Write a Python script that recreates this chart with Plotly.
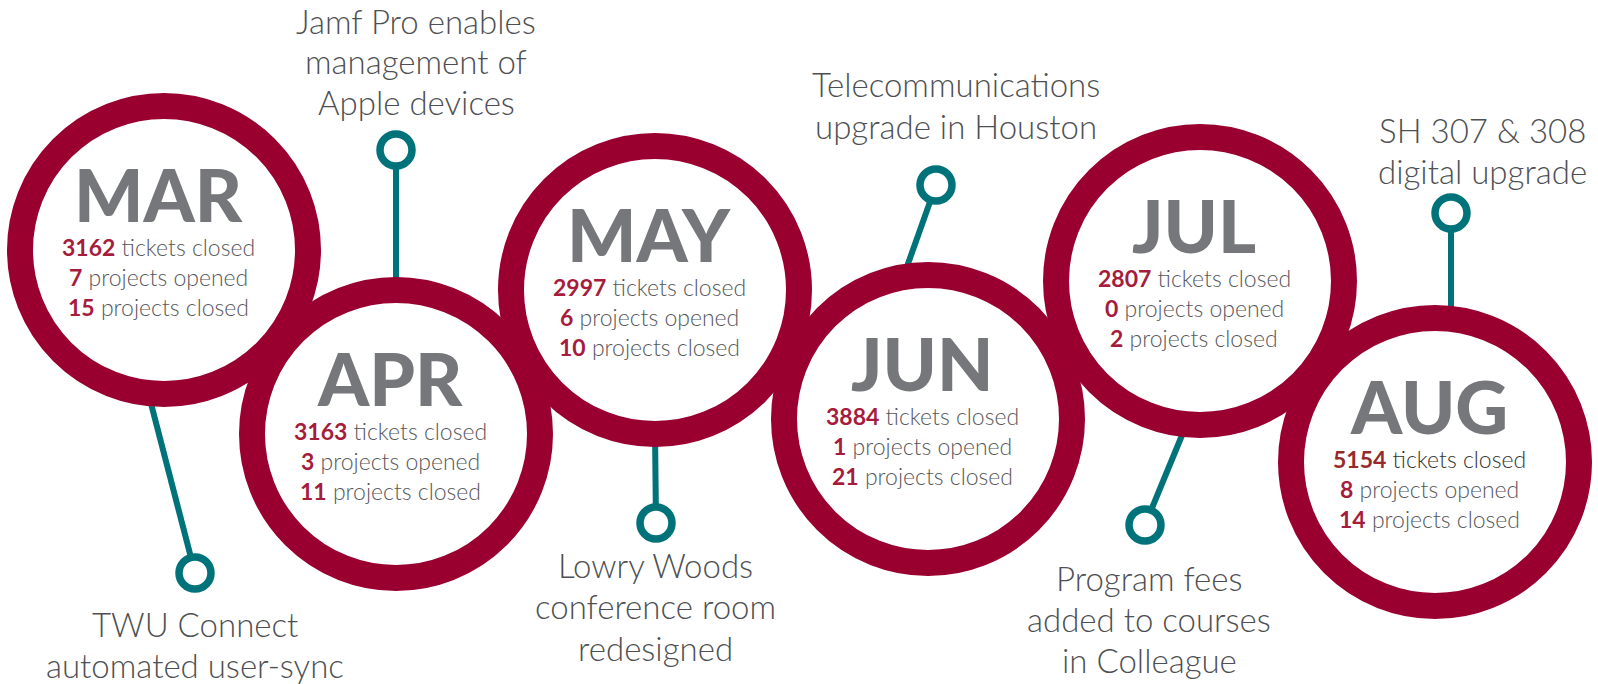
import plotly.graph_objects as go

# ---- data ----
months = ["MAR", "APR", "MAY", "JUN", "JUL", "AUG"]
tickets_closed = [3162, 3163, 2997, 3884, 2807, 5154]
projects_opened = [7, 3, 6, 1, 0, 8]
projects_closed = [15, 11, 10, 21, 2, 14]
milestones = [
    "TWU Connect<br>automated user-sync",
    "Jamf Pro enables<br>management of<br>Apple devices",
    "Lowry Woods<br>conference room<br>redesigned",
    "Telecommunications<br>upgrade in Houston",
    "Program fees<br>added to courses<br>in Colleague",
    "SH 307 & 308<br>digital upgrade",
]

# ---- layout (pixel positions in a 1598x684 canvas) ----
W, H = 1598, 684
circle_cx = [164, 396, 655, 928, 1200, 1435]
circle_cy = [250, 434, 290, 419, 281, 462]
R_MID = 144
RING_W = 26
pin_start = [(148, 392), (396, 292), (655, 432), (904, 275), (1185, 428), (1451, 320)]
pin_end = [(195, 573), (396, 150), (656, 523), (936, 185), (1145, 525), (1451, 213)]
label_x = [195, 416, 655, 956, 1149, 1482]
label_y = [[624, 665], [21, 61, 102], [565, 606, 648], [84, 126], [578, 619, 660], [130, 171]]

RED = "#990030"
NUM = "#a51c3c"
GRAY_M = "#76777a"
GRAY_T = "#56575b"
TEAL = "#00737a"
PIN_TXT = "#4e4f52"

fig = go.Figure()

# teal connector lines
for (x0, y0), (x1, y1) in zip(pin_start, pin_end):
    fig.add_trace(go.Scatter(x=[x0, x1], y=[y0, y1], mode="lines",
                             line=dict(color=TEAL, width=6), hoverinfo="skip",
                             showlegend=False))
# pin rings
fig.add_trace(go.Scatter(x=[p[0] for p in pin_end], y=[p[1] for p in pin_end],
                         mode="markers",
                         marker=dict(size=32, color="white", symbol="circle",
                                     line=dict(color=TEAL, width=7.5)),
                         hoverinfo="skip", showlegend=False))

shapes = []
for cx, cy in zip(circle_cx, circle_cy):
    shapes.append(dict(type="circle", xref="x", yref="y",
                       x0=cx - R_MID, x1=cx + R_MID, y0=cy - R_MID, y1=cy + R_MID,
                       line=dict(color=RED, width=RING_W), layer="above"))

annotations = []
for i, m in enumerate(months):
    cx, cy = circle_cx[i], circle_cy[i]
    tx = cx - 6
    annotations.append(dict(x=tx, y=cy - 56, text=m, showarrow=False,
                            xanchor="center", yanchor="middle",
                            font=dict(family="Lato", size=73, color=GRAY_M, weight=900)))
    if m == "AUG":
        num_col, txt_col = "#962a2a", "#333333"
    else:
        num_col, txt_col = NUM, GRAY_T
    lines = [
        (tickets_closed[i], "tickets closed", num_col, txt_col),
        (projects_opened[i], "projects opened", NUM, GRAY_T),
        (projects_closed[i], "projects closed", NUM, GRAY_T),
    ]
    for k, (v, lab, nc, tc) in enumerate(lines):
        annotations.append(dict(
            x=tx, y=cy - 3 + 30 * k,
            text=f"<span style='color:{nc}'><b>{v}</b></span> {lab}",
            showarrow=False, xanchor="center", yanchor="middle",
            font=dict(family="Lato", size=23, color=tc, weight=300)))

for i, txt in enumerate(milestones):
    for k, line in enumerate(txt.split("<br>")):
        annotations.append(dict(x=label_x[i], y=label_y[i][k], text=line, showarrow=False,
                                xanchor="center", yanchor="middle", borderpad=0,
                                font=dict(family="Lato", size=33, color=PIN_TXT, weight=300)))

fig.update_layout(
    width=W, height=H, autosize=False,
    margin=dict(l=0, r=0, t=0, b=0),
    paper_bgcolor="white", plot_bgcolor="white",
    xaxis=dict(range=[0, W], visible=False, fixedrange=True),
    yaxis=dict(range=[H, 0], visible=False, fixedrange=True),
    shapes=shapes, annotations=annotations,
    showlegend=False,
)

fig.write_html("out.html", config={"displayModeBar": False},
               post_script="document.body.style.margin='0';document.body.style.overflow='hidden';")
